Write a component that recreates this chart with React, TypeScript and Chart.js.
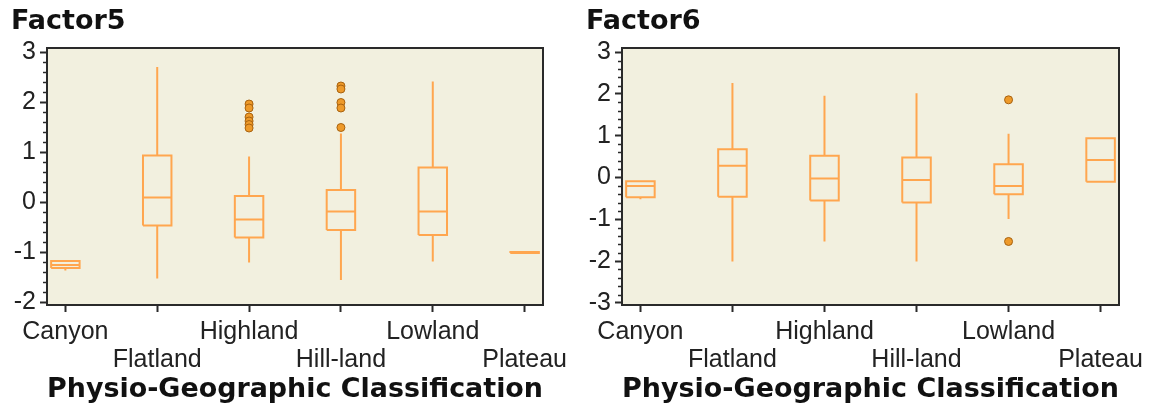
import React, { useEffect, useRef } from 'react';
import { Chart, registerables } from 'chart.js';

Chart.register(...registerables);

const categories = ['Canyon', 'Flatland', 'Highland', 'Hill-land', 'Lowland', 'Plateau'];
const xAxisTitle = 'Physio-Geographic Classification';

// Factor5 box-plot summaries
const f5Min = [-1.37, -1.53, -1.21, -1.56, -1.19, -1.02];
const f5Q1 = [-1.32, -0.47, -0.71, -0.56, -0.66, -1.02];
const f5Median = [-1.26, 0.09, -0.35, -0.19, -0.19, -1.01];
const f5Q3 = [-1.18, 0.93, 0.12, 0.24, 0.69, -1.0];
const f5Max = [-1.18, 2.7, 0.91, 1.37, 2.41, -1.0];
const f5OutlierCat = ['Highland', 'Highland', 'Highland', 'Highland', 'Highland', 'Highland', 'Hill-land', 'Hill-land', 'Hill-land', 'Hill-land', 'Hill-land'];
const f5OutlierVal = [1.96, 1.88, 1.7, 1.62, 1.55, 1.48, 2.32, 2.26, 1.99, 1.88, 1.49];
const f5Ticks = [-2, -1, 0, 1, 2, 3];

// Factor6 box-plot summaries
const f6Min = [-0.52, -2.01, -1.53, -2.01, -0.99, -0.1];
const f6Q1 = [-0.47, -0.46, -0.55, -0.6, -0.4, -0.1];
const f6Median = [-0.2, 0.28, -0.02, -0.06, -0.2, 0.42];
const f6Q3 = [-0.09, 0.68, 0.52, 0.48, 0.32, 0.94];
const f6Max = [-0.09, 2.26, 1.96, 2.02, 1.05, 0.94];
const f6OutlierCat = ['Lowland', 'Lowland'];
const f6OutlierVal = [1.86, -1.53];
const f6Ticks = [-3, -2, -1, 0, 1, 2, 3];

const ORANGE = '#FFA64F';
const AXIS = '#2a2a2a';

type PanelProps = {
  title: string;
  left: number;
  width: number;
  mins: number[];
  q1s: number[];
  meds: number[];
  q3s: number[];
  maxs: number[];
  outCat: string[];
  outVal: number[];
  yTicks: number[];
  yMin: number;
  yMax: number;
};

function BoxPanel(p: PanelProps) {
  const ref = useRef<HTMLCanvasElement>(null);
  useEffect(() => {
    if (!ref.current) return;
    const half = 0.155;
    const boxPts: any[] = [];
    const medPts: any[] = [];
    const whiskPts: any[] = [];
    categories.forEach((_, i) => {
      const x = i + 1;
      boxPts.push(
        { x: x - half, y: p.q1s[i] },
        { x: x + half, y: p.q1s[i] },
        { x: x + half, y: p.q3s[i] },
        { x: x - half, y: p.q3s[i] },
        { x: x - half, y: p.q1s[i] },
        { x, y: null }
      );
      medPts.push({ x: x - half, y: p.meds[i] }, { x: x + half, y: p.meds[i] }, { x, y: null });
      if (p.maxs[i] > p.q3s[i]) whiskPts.push({ x, y: p.q3s[i] }, { x, y: p.maxs[i] }, { x, y: null });
      if (p.mins[i] < p.q1s[i]) whiskPts.push({ x, y: p.q1s[i] }, { x, y: p.mins[i] }, { x, y: null });
    });
    const outPts = p.outCat.map((c, k) => ({ x: categories.indexOf(c) + 1, y: p.outVal[k] }));

    const lineDs = (data: any[]) => ({
      type: 'line' as const,
      data,
      showLine: true,
      spanGaps: false,
      borderColor: ORANGE,
      borderWidth: 2,
      pointRadius: 0,
      fill: false,
      tension: 0,
      borderJoinStyle: 'miter' as const,
      borderCapStyle: 'butt' as const,
    });

    const framePlugin = {
      id: 'frame',
      beforeDraw(chart: any) {
        const { ctx, chartArea } = chart;
        const { left, top, right, bottom } = chartArea;
        ctx.save();
        ctx.fillStyle = '#F2F0DF';
        ctx.fillRect(left, top, right - left, bottom - top);
        ctx.restore();
      },
      afterDraw(chart: any) {
        const { ctx, chartArea } = chart;
        const { left, top, right, bottom } = chartArea;
        ctx.save();
        ctx.strokeStyle = AXIS;
        ctx.lineWidth = 2;
        ctx.strokeRect(left, top, right - left, bottom - top);
        // minor ticks on the y axis
        const ys = chart.scales.y;
        ctx.lineWidth = 1.5;
        const lo = p.yTicks[0];
        const hi = p.yTicks[p.yTicks.length - 1];
        for (let k = Math.round(lo * 5); k <= Math.round(hi * 5); k++) {
          if (k % 5 === 0) continue;
          const py = Math.round(ys.getPixelForValue(k / 5)) + 0.5;
          ctx.beginPath();
          ctx.moveTo(left - 4, py);
          ctx.lineTo(left, py);
          ctx.stroke();
        }
        ctx.restore();
      },
    };

    const chart = new Chart(ref.current, {
      type: 'scatter',
      data: {
        datasets: [
          lineDs(boxPts),
          lineDs(medPts),
          lineDs(whiskPts),
          {
            type: 'scatter' as const,
            data: outPts,
            pointRadius: 4,
            pointStyle: 'circle',
            backgroundColor: '#EE9A2A',
            borderColor: '#A8620F',
            borderWidth: 1,
          },
        ] as any,
      },
      options: {
        responsive: false,
        animation: false,
        devicePixelRatio: 1,
        layout: { padding: { left: 11, right: 32, top: 0, bottom: 0 } },
        plugins: {
          legend: { display: false },
          tooltip: { enabled: false },
          title: {
            display: true,
            text: p.title,
            align: 'start',
            color: '#111',
            font: { family: 'DejaVu Sans', size: 27, weight: 'bold' },
            padding: { top: 6, bottom: 9.6 },
          },
        },
        scales: {
          x: {
            type: 'linear',
            min: 0.8,
            max: 6.2,
            afterBuildTicks: (s: any) => {
              s.ticks = categories.map((_, i) => ({ value: i + 1 }));
            },
            afterFit: (s: any) => {
              s.height = 108;
            },
            ticks: {
              autoSkip: false,
              maxRotation: 0,
              minRotation: 0,
              padding: 6,
              color: '#222',
              font: { family: 'Liberation Sans', size: 25, lineHeight: 1.12 },
              callback: (v: any) => {
                const i = Math.round(Number(v)) - 1;
                const label = categories[i] ?? '';
                return i % 2 === 0 ? label : ['', label];
              },
            },
            grid: { drawOnChartArea: false, drawTicks: true, tickLength: 7, tickWidth: 2, tickColor: AXIS },
            border: { display: false },
            title: {
              display: true,
              text: xAxisTitle,
              color: '#111',
              font: { family: 'DejaVu Sans', size: 27, weight: 'bold' },
              padding: { top: 0, bottom: 7 },
            },
          },
          y: {
            type: 'linear',
            min: p.yMin,
            max: p.yMax,
            afterBuildTicks: (s: any) => {
              s.ticks = p.yTicks.map((v) => ({ value: v }));
            },
            afterFit: (s: any) => {
              s.width = 36;
            },
            ticks: {
              padding: 4,
              color: '#222',
              font: { family: 'Liberation Sans', size: 25 },
              callback: (v: any) => String(v),
            },
            grid: { drawOnChartArea: false, drawTicks: true, tickLength: 7, tickWidth: 2, tickColor: AXIS },
            border: { display: false },
          },
        },
      } as any,
      plugins: [framePlugin],
    });
    return () => chart.destroy();
  }, []);
  return (
    <canvas
      ref={ref}
      width={p.width}
      height={413}
      style={{ position: 'absolute', left: p.left, top: 0, width: p.width, height: 413, display: 'block' }}
    />
  );
}

export default function App() {
  return (
    <div style={{ position: 'absolute', left: 0, top: 0, width: 1151, height: 413, background: '#fff', overflow: 'hidden' }}>
      <BoxPanel
        title="Factor5"
        left={0}
        width={575}
        mins={f5Min}
        q1s={f5Q1}
        meds={f5Median}
        q3s={f5Q3}
        maxs={f5Max}
        outCat={f5OutlierCat}
        outVal={f5OutlierVal}
        yTicks={f5Ticks}
        yMin={-2.06}
        yMax={3.08}
      />
      <BoxPanel
        title="Factor6"
        left={575}
        width={576}
        mins={f6Min}
        q1s={f6Q1}
        meds={f6Median}
        q3s={f6Q3}
        maxs={f6Max}
        outCat={f6OutlierCat}
        outVal={f6OutlierVal}
        yTicks={f6Ticks}
        yMin={-3.05}
        yMax={3.1}
      />
    </div>
  );
}
